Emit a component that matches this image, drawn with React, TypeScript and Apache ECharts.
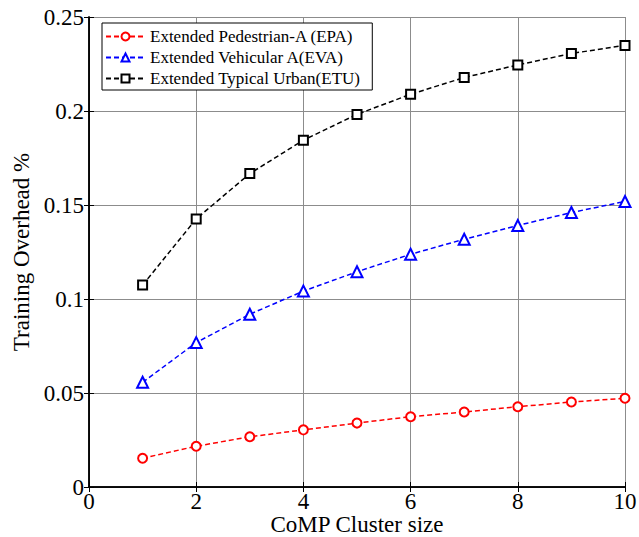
import React, { useEffect, useRef } from "react";
import * as echarts from "echarts";

const clusterSizes = [1, 2, 3, 4, 5, 6, 7, 8, 9, 10];
const epaValues = [0.0153, 0.0217, 0.0267, 0.0304, 0.034, 0.0374, 0.0399, 0.0427, 0.0452, 0.0472];
const evaValues = [0.0557, 0.0768, 0.0919, 0.1042, 0.1145, 0.1238, 0.1318, 0.1391, 0.146, 0.1519];
const etuValues = [0.1074, 0.1426, 0.1667, 0.1845, 0.1982, 0.2089, 0.2178, 0.2245, 0.2306, 0.2349];
const seriesNames = ["Extended Pedestrian-A (EPA)", "Extended Vehicular A(EVA)", "Extended Typical Urban(ETU)"];

const FONT = "Liberation Serif";

export default function App() {
  const ref = useRef<HTMLDivElement>(null);
  useEffect(() => {
    if (!ref.current) return;
    const chart = echarts.init(ref.current, undefined, { renderer: "svg" });
    const mk = (name: string, vals: number[], color: string, symbol: string, size: number) => ({
      name,
      type: "line",
      data: clusterSizes.map((x, i) => [x, vals[i]]),
      symbol,
      symbolSize: size,
      lineStyle: { color, width: 1.5, type: [5, 3] },
      itemStyle: { color, borderColor: color, borderWidth: 1.5 },
      xAxisIndex: 0,
      yAxisIndex: 0,
    });
    const axisCommon = {
      axisLine: { show: true, lineStyle: { color: "#000", width: 1.5 } },
      axisTick: { show: true, inside: true, length: 5, lineStyle: { color: "#000" } },
    };
    chart.setOption({
      animation: false,
      backgroundColor: "#fff",
      textStyle: { fontFamily: FONT },
      grid: { left: 89, right: 14, top: 17, bottom: 50, containLabel: false, outerBoundsMode: "none" },
      legend: {
        orient: "vertical",
        left: 102,
        top: 23,
        itemWidth: 39,
        itemHeight: 10,
        itemGap: 4,
        padding: [5, 12, 3, 3],
        borderColor: "#000",
        borderWidth: 1,
        backgroundColor: "#fff",
        textStyle: { fontFamily: FONT, fontSize: 17, color: "#000" },
        data: seriesNames,
      },
      xAxis: [
        {
          type: "value",
          min: 0,
          max: 10,
          interval: 2,
          name: "CoMP Cluster size",
          nameLocation: "middle",
          nameGap: 26,
          nameMoveOverlap: false,
          nameTextStyle: { fontFamily: FONT, fontSize: 23, color: "#000" },
          axisLabel: { fontFamily: FONT, fontSize: 23, color: "#000", margin: 3 },
          splitLine: { show: true, lineStyle: { color: "#8c8c8c", width: 1 } },
          ...axisCommon,
        },
        {
          type: "value",
          position: "top",
          min: 0,
          max: 10,
          interval: 2,
          axisLabel: { show: false },
          splitLine: { show: false },
          ...axisCommon,
        },
      ],
      yAxis: [
        {
          type: "value",
          min: 0,
          max: 0.25,
          interval: 0.05,
          name: "Training Overhead %",
          nameLocation: "middle",
          nameGap: 56,
          nameMoveOverlap: false,
          nameTextStyle: { fontFamily: FONT, fontSize: 23, color: "#000" },
          axisLabel: {
            fontFamily: FONT,
            fontSize: 23,
            color: "#000",
            margin: 5,
            formatter: (v: number) => String(parseFloat(v.toFixed(2))),
          },
          splitLine: { show: true, lineStyle: { color: "#8c8c8c", width: 1 } },
          ...axisCommon,
        },
        {
          type: "value",
          position: "right",
          min: 0,
          max: 0.25,
          interval: 0.05,
          axisLabel: { show: false },
          splitLine: { show: false },
          ...axisCommon,
        },
      ],
      series: [
        mk(seriesNames[0], epaValues, "#ff0000", "emptyCircle", 9),
        mk(seriesNames[1], evaValues, "#0000ff", "emptyTriangle", 11),
        mk(seriesNames[2], etuValues, "#000000", "emptyRect", 9),
      ],
    });
    return () => chart.dispose();
  }, []);
  return <div ref={ref} style={{ width: 639, height: 537, position: "absolute", left: 0, top: 0 }} />;
}
